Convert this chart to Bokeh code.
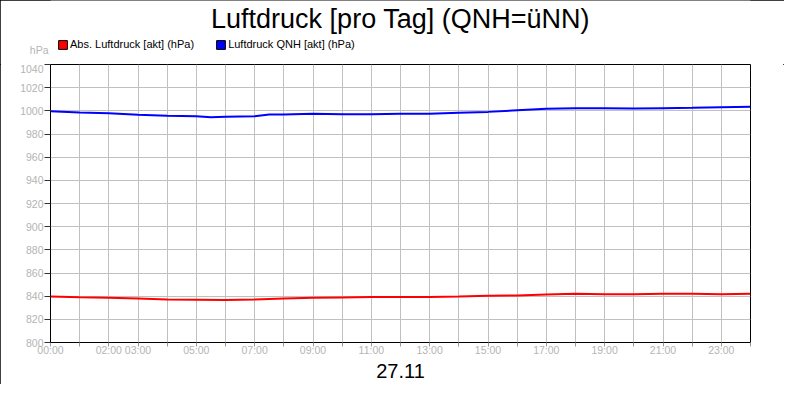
from bokeh.plotting import figure
from bokeh.layouts import column
from bokeh.models import FixedTicker, Legend, LegendItem, Range1d, Title, Label
from bokeh.embed import file_html
from bokeh.resources import INLINE

# ---- data ----
qnh_hours = [0, 1, 2, 3, 4, 5, 5.5, 6, 7, 7.5, 8, 9, 10, 11, 12, 13, 14, 15, 16, 17, 18, 19, 20, 21, 22, 23, 24]
qnh_vals = [999.7, 998.6, 998.0, 996.6, 995.7, 995.4, 994.5, 994.8, 995.4, 996.8, 996.8, 997.4, 997.1, 997.1,
            997.4, 997.4, 998.3, 999.1, 1000.5, 1001.7, 1002.3, 1002.3, 1002.0, 1002.3, 1002.6, 1003.2, 1003.5]

abs_hours = [0, 1, 2, 3, 4, 5, 6, 7, 8, 9, 10, 11, 12, 13, 14, 15, 16, 17, 18, 19, 20, 21, 22, 23, 24]
abs_vals = [839.7, 839.1, 838.6, 838.0, 837.1, 836.9, 836.6, 837.1, 838.0, 838.6, 838.9, 839.2, 839.2,
            839.2, 839.7, 840.3, 840.6, 841.4, 842.0, 841.7, 841.7, 842.0, 842.0, 841.7, 842.0]

x_ticks = list(range(0, 25))
x_tick_labels = {0: "00:00", 2: "02:00", 3: "03:00", 5: "05:00", 7: "07:00", 9: "09:00",
                 11: "11:00", 13: "13:00", 15: "15:00", 17: "17:00", 19: "19:00", 21: "21:00", 23: "23:00"}
y_ticks = list(range(800, 1041, 20))

title_text = "Luftdruck [pro Tag] (QNH=üNN)"
date_text = "27.11"
unit_text = "hPa"
series_names = ["Abs. Luftdruck [akt] (hPa)", "Luftdruck QNH [akt] (hPa)"]
series_colors = ["#ff0000", "#0000ff"]

FONT = "Liberation Sans"
GREY = "#b4b4b4"
W = 784
HEAD_H = 64
NAN = float("nan")

# ---------- header: title, legend and unit label ----------
head = figure(width=W, height=HEAD_H, x_range=Range1d(0, 1), y_range=Range1d(0, HEAD_H),
              output_backend="svg", toolbar_location=None, title_location=None,
              min_border=0, x_axis_type=None)
head.grid.visible = False
head.outline_line_color = None
head.background_fill_color = "white"
head.border_fill_color = "white"

# unit label "hPa" drawn as the only tick label of the header's left axis
unit_pos = 15
head.yaxis.ticker = FixedTicker(ticks=[unit_pos])
head.yaxis.major_label_overrides = {unit_pos: unit_text}
head.yaxis.axis_line_color = None
head.yaxis.major_tick_line_color = None
head.yaxis.minor_tick_line_color = None
head.yaxis.major_tick_in = 0
head.yaxis.major_tick_out = 0
head.yaxis.major_label_standoff = 2
head.yaxis.major_label_text_color = GREY
head.yaxis.major_label_text_font = FONT
head.yaxis.major_label_text_font_size = "10.5px"

head.add_layout(Label(x=350, y=46, x_units="screen", y_units="screen", text=title_text,
                      text_align="center", text_baseline="alphabetic", text_font=FONT,
                      text_font_size="27px", text_color="black"))

# swatch renderers used only by the legend (no visible data)
sw_red = head.quad(left=[NAN], right=[NAN], top=[NAN], bottom=[NAN],
                   fill_color=series_colors[0], line_color="black")
sw_blue = head.quad(left=[NAN], right=[NAN], top=[NAN], bottom=[NAN],
                    fill_color=series_colors[1], line_color="black")
legend = Legend(items=[LegendItem(label=series_names[0], renderers=[sw_red]),
                       LegendItem(label=series_names[1], renderers=[sw_blue])],
                orientation="horizontal", location=(7, 14),
                glyph_width=11, glyph_height=11, label_height=11, label_standoff=2,
                spacing=21, padding=0, margin=0, border_line_color=None,
                background_fill_alpha=0, label_text_font=FONT, label_text_font_size="11px",
                label_text_color="black")
head.add_layout(legend, "center")

# ---------- main chart ----------
p = figure(width=W, height=384 - HEAD_H, x_range=Range1d(0, 24), y_range=Range1d(800, 1040),
           output_backend="svg", toolbar_location=None, title_location=None,
           min_border_left=50, min_border_right=34, min_border_top=0, min_border_bottom=42)
p.background_fill_color = "white"
p.border_fill_color = "white"
p.outline_line_color = "black"
p.outline_line_width = 1

p.xaxis.ticker = FixedTicker(ticks=x_ticks)
p.xaxis.major_label_overrides = {t: x_tick_labels.get(t, "") for t in x_ticks}
p.yaxis.ticker = FixedTicker(ticks=y_ticks)
for ax in (p.xaxis, p.yaxis):
    ax.minor_tick_line_color = None
    ax.major_tick_in = 0
    ax.major_label_text_color = GREY
    ax.major_label_text_font = FONT
    ax.major_label_text_font_size = "10.5px"
    ax.axis_line_color = "black"
p.xaxis.major_tick_out = 4
p.xaxis.major_label_standoff = -3
p.xaxis.major_tick_line_color = "#999999"
p.yaxis.major_tick_out = 6
p.yaxis.major_label_standoff = 1
p.yaxis.major_tick_line_color = "#333333"

p.xgrid.ticker = FixedTicker(ticks=x_ticks)
p.ygrid.ticker = FixedTicker(ticks=y_ticks)
p.grid.grid_line_color = "#c0c0c0"
p.grid.grid_line_width = 1

p.line(abs_hours, abs_vals, line_color=series_colors[0], line_width=2)
p.line(qnh_hours, qnh_vals, line_color=series_colors[1], line_width=2)

p.add_layout(Title(text=date_text, align="center", standoff=7, text_font=FONT,
                   text_font_size="20px", text_font_style="normal", text_color="black"), "below")

page = column(head, p, spacing=0, width=W, height=384, sizing_mode="fixed")
page.styles = {"outline": "1px solid black", "outline-offset": "-1px"}

open("out.html", "w").write(file_html(page, INLINE))
